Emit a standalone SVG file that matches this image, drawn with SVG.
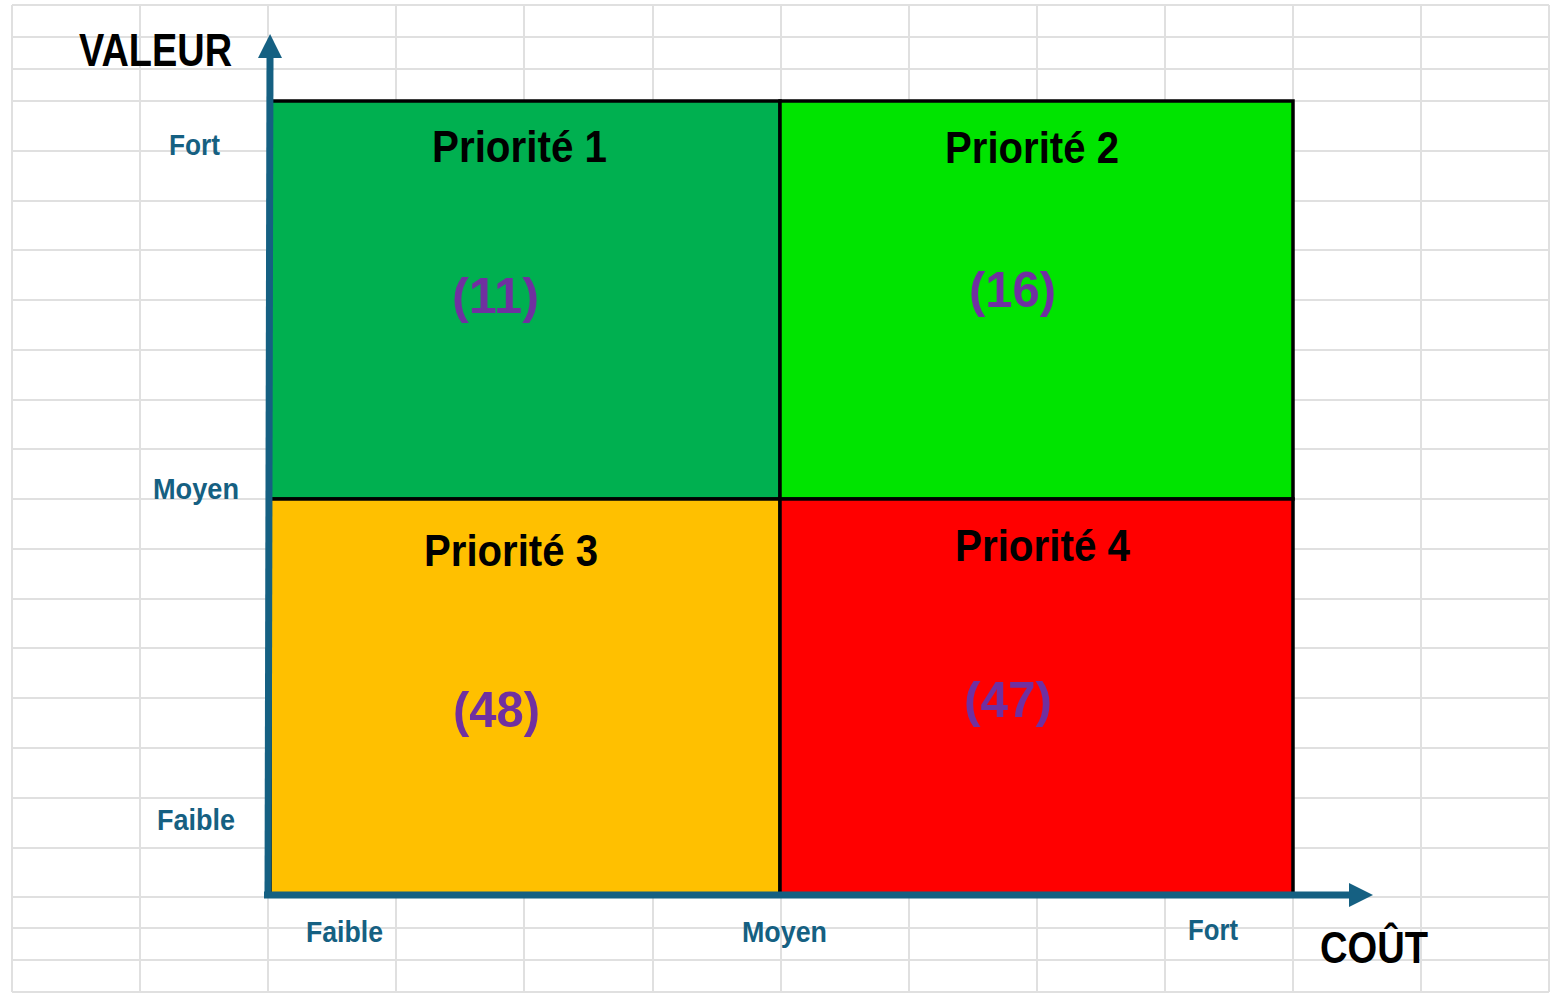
<svg xmlns="http://www.w3.org/2000/svg" width="1555" height="994" viewBox="0 0 1555 994">
<style>
.grid line{stroke:#e0e0e0;stroke-width:2}
.q{stroke:#000;stroke-width:3.5}
.title{font-family:"Liberation Sans",Arial,sans-serif;font-weight:bold;fill:#000}
.pri{font-family:"Liberation Sans",Arial,sans-serif;font-weight:bold;font-size:45px;fill:#000}
.cnt{font-family:"Liberation Sans",Arial,sans-serif;font-weight:bold;font-size:50px;fill:#7030A0}
.lab{font-family:"Liberation Sans",Arial,sans-serif;font-weight:bold;font-size:29px;fill:#156082}
.axis{stroke:#156082;stroke-width:7;fill:none}
</style>
<defs>
<marker id="ah" markerUnits="userSpaceOnUse" markerWidth="24" markerHeight="24" viewBox="0 0 24 24" refX="0" refY="12" orient="auto">
<path d="M0,0 L24,12 L0,24 z" fill="#156082"/>
</marker>
</defs>
<rect width="1555" height="994" fill="#fff"/>
<g class="grid">
<line x1="12" y1="5" x2="12" y2="992"/><line x1="140" y1="5" x2="140" y2="992"/><line x1="268" y1="5" x2="268" y2="992"/><line x1="396" y1="5" x2="396" y2="992"/><line x1="524" y1="5" x2="524" y2="992"/><line x1="653" y1="5" x2="653" y2="992"/><line x1="781" y1="5" x2="781" y2="992"/><line x1="909" y1="5" x2="909" y2="992"/><line x1="1037" y1="5" x2="1037" y2="992"/><line x1="1165" y1="5" x2="1165" y2="992"/><line x1="1293" y1="5" x2="1293" y2="992"/><line x1="1421" y1="5" x2="1421" y2="992"/><line x1="1549" y1="5" x2="1549" y2="992"/>
<line x1="12" y1="5" x2="1549" y2="5"/><line x1="12" y1="37" x2="1549" y2="37"/><line x1="12" y1="69" x2="1549" y2="69"/><line x1="12" y1="101" x2="1549" y2="101"/><line x1="12" y1="151" x2="1549" y2="151"/><line x1="12" y1="201" x2="1549" y2="201"/><line x1="12" y1="250" x2="1549" y2="250"/><line x1="12" y1="300" x2="1549" y2="300"/><line x1="12" y1="350" x2="1549" y2="350"/><line x1="12" y1="400" x2="1549" y2="400"/><line x1="12" y1="449" x2="1549" y2="449"/><line x1="12" y1="499" x2="1549" y2="499"/><line x1="12" y1="549" x2="1549" y2="549"/><line x1="12" y1="599" x2="1549" y2="599"/><line x1="12" y1="648" x2="1549" y2="648"/><line x1="12" y1="698" x2="1549" y2="698"/><line x1="12" y1="748" x2="1549" y2="748"/><line x1="12" y1="798" x2="1549" y2="798"/><line x1="12" y1="848" x2="1549" y2="848"/><line x1="12" y1="897" x2="1549" y2="897"/><line x1="12" y1="928" x2="1549" y2="928"/><line x1="12" y1="960" x2="1549" y2="960"/><line x1="12" y1="992" x2="1549" y2="992"/>
</g>
<g id="p1">
<rect class="q" x="270" y="101" width="510" height="398" fill="#00B050"/>
<text class="pri" x="432" y="162" textLength="175" lengthAdjust="spacingAndGlyphs">Priorité 1</text>
<text class="cnt" x="452" y="313" textLength="87" lengthAdjust="spacingAndGlyphs">(11)</text>
</g>
<g id="p2">
<rect class="q" x="780" y="101" width="513" height="398" fill="#00E400"/>
<text class="pri" x="945" y="163" textLength="174" lengthAdjust="spacingAndGlyphs">Priorité 2</text>
<text class="cnt" x="969" y="307" textLength="87" lengthAdjust="spacingAndGlyphs">(16)</text>
</g>
<g id="p3">
<rect class="q" x="270" y="499" width="510" height="396" fill="#FFC000"/>
<text class="pri" x="424" y="566" textLength="174" lengthAdjust="spacingAndGlyphs">Priorité 3</text>
<text class="cnt" x="453" y="727" textLength="87" lengthAdjust="spacingAndGlyphs">(48)</text>
</g>
<g id="p4">
<rect class="q" x="780" y="499" width="513" height="396" fill="#FF0000"/>
<text class="pri" x="955" y="561" textLength="175" lengthAdjust="spacingAndGlyphs">Priorité 4</text>
<text class="cnt" x="964" y="717" textLength="88" lengthAdjust="spacingAndGlyphs">(47)</text>
</g>
<g id="connectors">
<line class="axis" x1="268" y1="898" x2="270" y2="58" marker-end="url(#ah)"/>
<line class="axis" x1="264" y1="895" x2="1349" y2="895" marker-end="url(#ah)"/>
</g>
<g id="axis-labels">
<text class="title" x="79" y="66" font-size="47" textLength="153" lengthAdjust="spacingAndGlyphs">VALEUR</text>
<text class="title" x="1320" y="963" font-size="44" textLength="108" lengthAdjust="spacingAndGlyphs">COÛT</text>
<text class="lab" x="169" y="155" textLength="51" lengthAdjust="spacingAndGlyphs">Fort</text>
<text class="lab" x="153" y="499" textLength="86" lengthAdjust="spacingAndGlyphs">Moyen</text>
<text class="lab" x="157" y="830" textLength="78" lengthAdjust="spacingAndGlyphs">Faible</text>
<text class="lab" x="306" y="942" textLength="77" lengthAdjust="spacingAndGlyphs">Faible</text>
<text class="lab" x="742" y="942" textLength="85" lengthAdjust="spacingAndGlyphs">Moyen</text>
<text class="lab" x="1188" y="940" textLength="50" lengthAdjust="spacingAndGlyphs">Fort</text>
</g>
</svg>
